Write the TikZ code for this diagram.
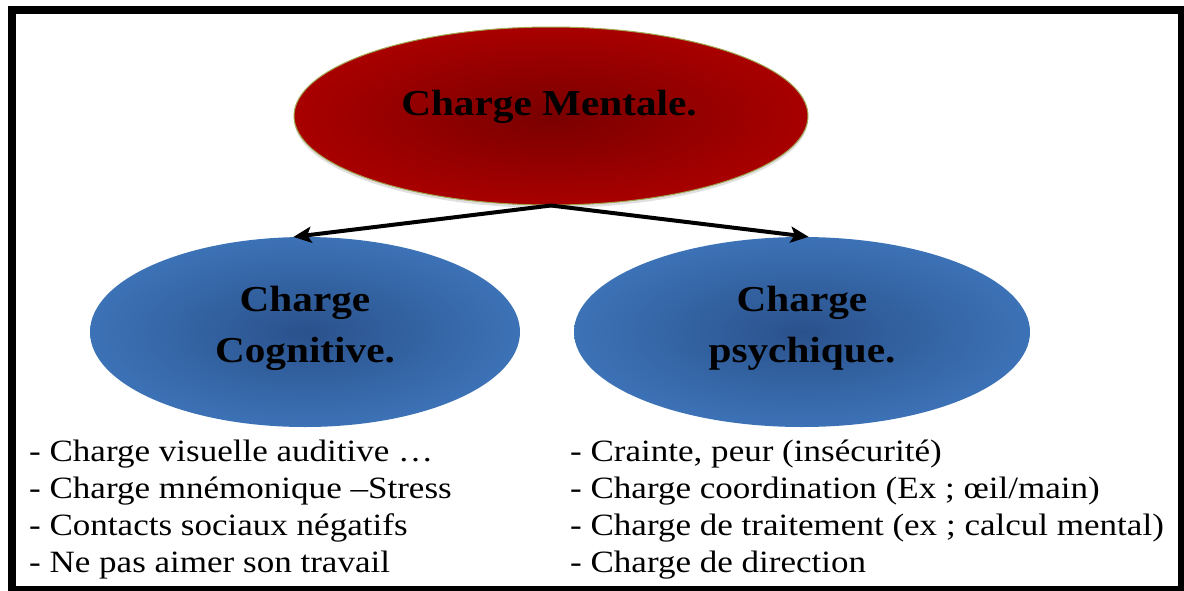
\documentclass[tikz,border=0pt]{standalone}
\usepackage{fontspec}
\setmainfont{Liberation Serif}[FakeStretch=1.13]
\usetikzlibrary{arrows.meta,shapes.geometric,shadows}
\definecolor{redc}{RGB}{122,0,0}
\definecolor{rede}{RGB}{204,0,0}
\definecolor{redline}{RGB}{160,165,80}
\definecolor{bluec}{RGB}{42,82,140}
\definecolor{bluee}{RGB}{74,138,214}
\pgfdeclareradialshading{redsh}{\pgfpoint{0bp}{0bp}}{color(0bp)=(redc); color(44bp)=(rede); color(50bp)=(rede)}
\pgfdeclareradialshading{bluesh}{\pgfpoint{0bp}{0bp}}{color(0bp)=(bluec); color(44bp)=(bluee); color(50bp)=(bluee)}
\tikzset{
  blob/.style={ellipse, inner sep=0pt},
  redblob/.style={blob, shading=redsh, draw=redline, line width=1pt,
    drop shadow={shadow xshift=0pt, shadow yshift=-3pt, opacity=0.25, fill=gray}},
  blueblob/.style={blob, shading=bluesh},
  title/.style={inner sep=0pt, align=center, font=\bfseries\fontsize{36.5}{51}\selectfont},
  body/.style={inner sep=0pt, anchor=north west, align=left, font=\fontsize{31}{37}\selectfont},
  arr/.style={line width=4pt, -{Stealth[length=18pt,width=16pt,inset=4pt]}},
}
\begin{document}
\begin{tikzpicture}[x=1pt,y=-1pt]
\useasboundingbox (0,0) rectangle (1184,590);
\fill[white] (0,0) rectangle (1184,590);
\draw[line width=8pt] (12,10) rectangle (1182,590);

\node[redblob, minimum width=514, minimum height=178] (ment) at (551,116) {};
\node[title] (mentt) at (549,106.6) {Charge Mentale.};

\node[blueblob, minimum width=430, minimum height=190] (cog) at (305,332) {};
\node[title] (cogt) at (305,328) {Charge\\Cognitive.};

\node[blueblob, minimum width=456, minimum height=190] (psy) at (802,332) {};
\node[title] (psyt) at (802,328) {Charge\\psychique.};

\draw[arr] (ment.south) -- (cog.97);
\draw[arr] (ment.south) -- (psy.86);

\node[body] (lcol) at (29,440) {- Charge visuelle auditive …\\
- Charge mnémonique –Stress\\
- Contacts sociaux négatifs\\
- Ne pas aimer son travail};
\node[body] (rcol) at (570,440) {- Crainte, peur (insécurité)\\
- Charge coordination (Ex ; œil/main)\\
- Charge de traitement (ex ; calcul mental)\\
- Charge de direction};
\end{tikzpicture}
\end{document}
